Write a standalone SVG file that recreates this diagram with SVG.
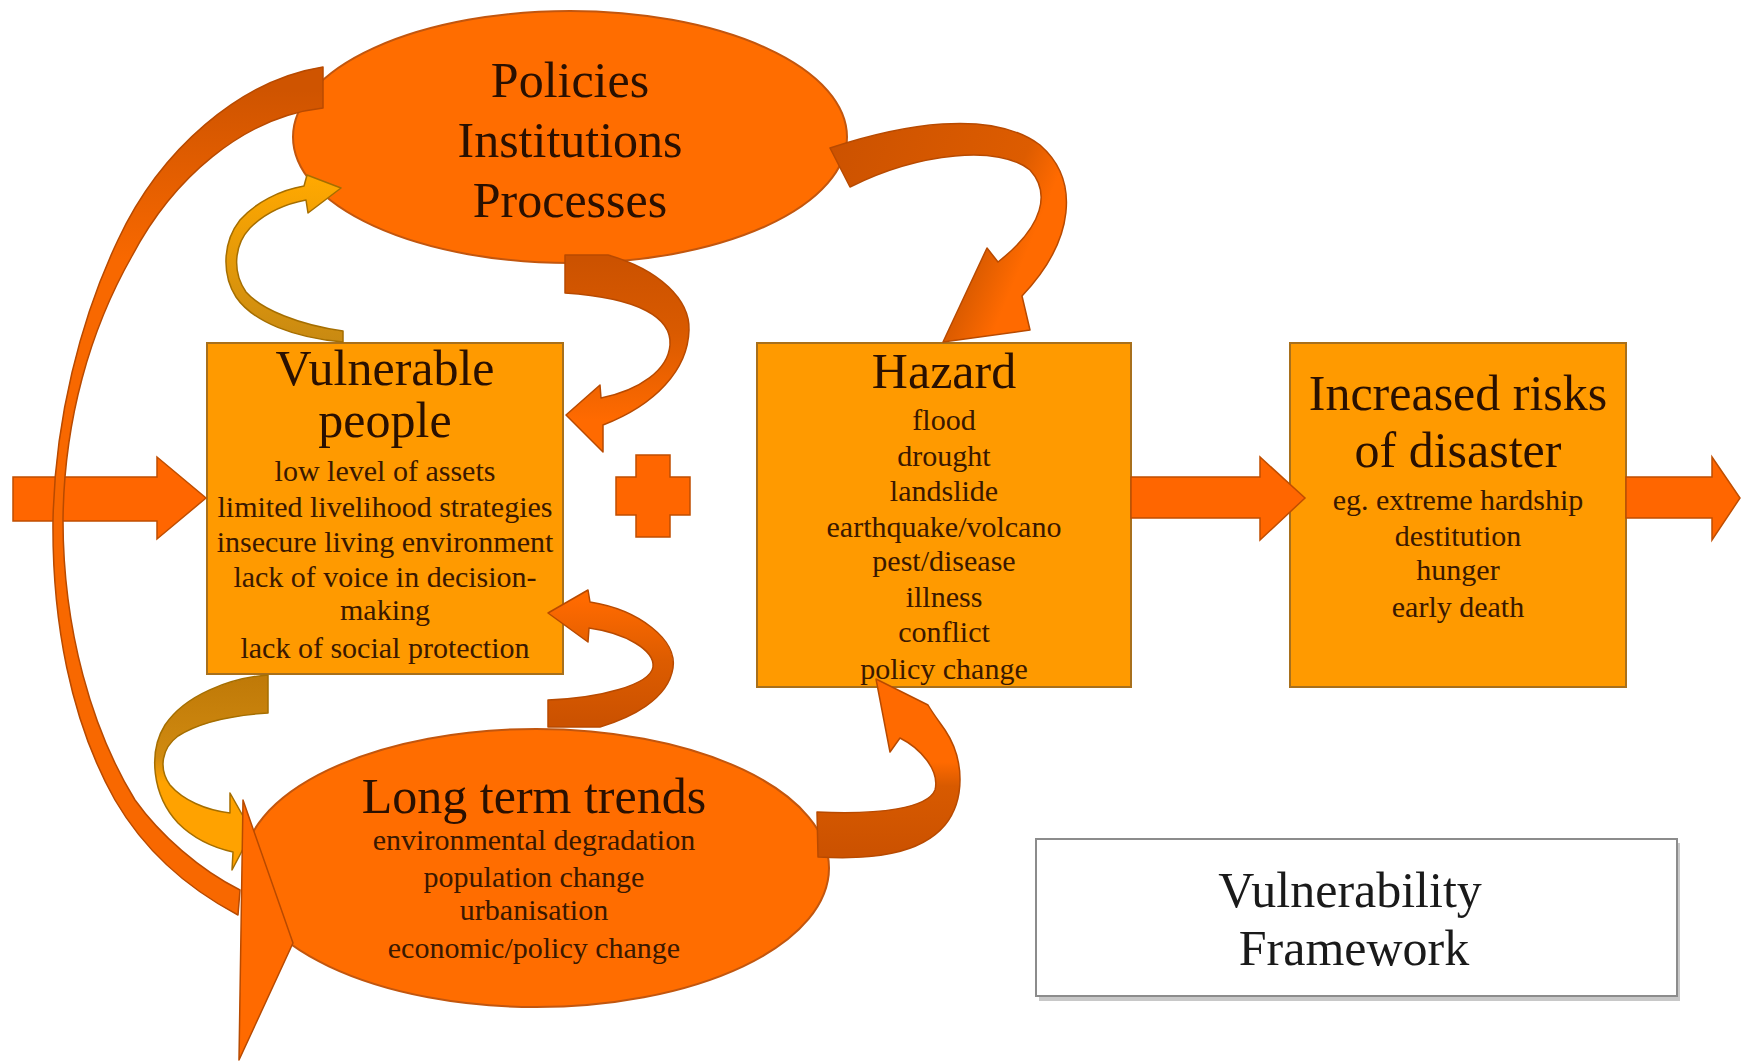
<svg xmlns="http://www.w3.org/2000/svg" width="1745" height="1064" viewBox="0 0 1745 1064">
<defs>
<style>
.bg{fill:#ffffff}
.ell{fill:#ff6d00;stroke:#c2560e;stroke-width:2}
.box{fill:#ff9a00;stroke:#a8701c;stroke-width:2}
.title{font-family:"Liberation Serif","Times New Roman",serif;font-size:50px;fill:#2a1000;text-anchor:middle}
.body{font-family:"Liberation Serif","Times New Roman",serif;font-size:30px;fill:#3a1800;text-anchor:middle}
.arrow{fill:#ff6600;stroke:#c04e00;stroke-width:1.5;stroke-linejoin:miter}
.curve{stroke:#b84a00;stroke-width:1.5;stroke-linejoin:round}
.amber{stroke:#a56e00;stroke-width:1.5;stroke-linejoin:round}
.frame{fill:#ffffff;stroke:#8c8c8c;stroke-width:2}
.ftext{font-family:"Liberation Serif","Times New Roman",serif;font-size:50px;fill:#1a1a1a;text-anchor:middle}
</style>
<linearGradient id="gA" gradientUnits="userSpaceOnUse" x1="0" y1="90" x2="0" y2="260">
<stop offset="0" stop-color="#cf5400"/><stop offset="1" stop-color="#f86800"/>
</linearGradient>
<linearGradient id="gB" gradientUnits="userSpaceOnUse" x1="0" y1="340" x2="0" y2="180">
<stop offset="0" stop-color="#c98a12"/><stop offset="1" stop-color="#ffa800"/>
</linearGradient>
<linearGradient id="gC" gradientUnits="userSpaceOnUse" x1="0" y1="260" x2="0" y2="420">
<stop offset="0" stop-color="#cc5200"/><stop offset="0.45" stop-color="#d95a00"/><stop offset="1" stop-color="#ff6a00"/>
</linearGradient>
<linearGradient id="gD" gradientUnits="userSpaceOnUse" x1="830" y1="150" x2="1070" y2="250">
<stop offset="0" stop-color="#cc5200"/><stop offset="0.7" stop-color="#dd5c00"/><stop offset="0.85" stop-color="#ff6a00"/><stop offset="1" stop-color="#ff6a00"/>
</linearGradient>
<linearGradient id="gE" gradientUnits="userSpaceOnUse" x1="0" y1="680" x2="0" y2="850">
<stop offset="0" stop-color="#c07a08"/><stop offset="0.45" stop-color="#d08a10"/><stop offset="0.6" stop-color="#ffa200"/><stop offset="1" stop-color="#ffa200"/>
</linearGradient>
<linearGradient id="gF" gradientUnits="userSpaceOnUse" x1="0" y1="720" x2="0" y2="600">
<stop offset="0" stop-color="#cc5200"/><stop offset="0.5" stop-color="#dd5c00"/><stop offset="1" stop-color="#ff6a00"/>
</linearGradient>
<linearGradient id="gG" gradientUnits="userSpaceOnUse" x1="0" y1="850" x2="0" y2="690">
<stop offset="0" stop-color="#cc5200"/><stop offset="0.4" stop-color="#d85a00"/><stop offset="0.55" stop-color="#ff6a00"/><stop offset="1" stop-color="#ff6a00"/>
</linearGradient>
</defs>
<rect class="bg" x="0" y="0" width="1745" height="1064"/>

<g id="node-policies">
<ellipse class="ell" cx="570" cy="137" rx="277" ry="126"/>
<text class="title" x="570" y="97">Policies</text>
<text class="title" x="570" y="157">Institutions</text>
<text class="title" x="570" y="217">Processes</text>
</g>

<g id="node-vulnerable">
<rect class="box" x="207" y="343" width="356" height="331"/>
<text class="title" x="385" y="385">Vulnerable</text>
<text class="title" x="385" y="437">people</text>
<text class="body" x="385" y="481">low level of assets</text>
<text class="body" x="385" y="517">limited livelihood strategies</text>
<text class="body" x="385" y="552">insecure living environment</text>
<text class="body" x="385" y="587">lack of voice in decision-</text>
<text class="body" x="385" y="620">making</text>
<text class="body" x="385" y="658">lack of social protection</text>
</g>

<g id="node-hazard">
<rect class="box" x="757" y="343" width="374" height="344"/>
<text class="title" x="944" y="388">Hazard</text>
<text class="body" x="944" y="430">flood</text>
<text class="body" x="944" y="466">drought</text>
<text class="body" x="944" y="501">landslide</text>
<text class="body" x="944" y="537">earthquake/volcano</text>
<text class="body" x="944" y="571">pest/disease</text>
<text class="body" x="944" y="607">illness</text>
<text class="body" x="944" y="642">conflict</text>
<text class="body" x="944" y="679">policy change</text>
</g>

<g id="node-risks">
<rect class="box" x="1290" y="343" width="336" height="344"/>
<text class="title" x="1458" y="410">Increased risks</text>
<text class="title" x="1458" y="467">of disaster</text>
<text class="body" x="1458" y="510">eg. extreme hardship</text>
<text class="body" x="1458" y="546">destitution</text>
<text class="body" x="1458" y="580">hunger</text>
<text class="body" x="1458" y="617">early death</text>
</g>

<g id="node-trends">
<ellipse class="ell" cx="536" cy="868" rx="293" ry="139"/>
<text class="title" x="534" y="813">Long term trends</text>
<text class="body" x="534" y="850">environmental degradation</text>
<text class="body" x="534" y="887">population change</text>
<text class="body" x="534" y="920">urbanisation</text>
<text class="body" x="534" y="958">economic/policy change</text>
</g>

<g id="node-title">
<rect x="1039" y="843" width="641" height="158" fill="#c8c8c8"/>
<rect class="frame" x="1036" y="839" width="641" height="157"/>
<text class="ftext" x="1350" y="907">Vulnerability</text>
<text class="ftext" x="1354" y="965">Framework</text>
</g>

<g id="plus">
<path class="arrow" d="M636,455 H670 V477 H690 V515 H670 V537 H636 V515 H616 V477 H636 Z"/>
</g>

<g id="connectors">
<path class="arrow" d="M13,477 L157,477 L157,457 L206,498 L157,539 L157,521 L13,521 Z"/>
<path class="arrow" d="M1131,477 L1260,477 L1260,457 L1305,498 L1260,540 L1260,518 L1131,518 Z"/>
<path class="arrow" d="M1626,477 L1712,477 L1712,457 L1740,498 L1712,540 L1712,518 L1626,518 Z"/>

<path class="amber" fill="url(#gB)" d="M343,342 L343,331 C300,325 262,310 246,292 C232,272 234,245 250,228 C265,213 285,204 306,200 L308,213 L341,188 L307,175 L304,186 C280,190 255,203 240,220 C222,243 222,275 236,297 C253,322 295,338 343,342 Z"/>

<path class="curve" fill="url(#gC)" d="M565,255 L608,255 C660,270 690,300 689,330 C688,370 655,405 603,425 L603,452 L566,415 L600,385 L601,398 C640,390 668,370 670,345 C672,318 640,298 565,293 Z"/>

<path class="curve" fill="url(#gD)" d="M830,148 C900,125 990,108 1040,145 C1080,180 1075,240 1022,296 L1030,330 L943,342 L987,248 L998,262 C1045,225 1050,192 1030,170 C1000,145 920,152 850,187 Z"/>

<path class="amber" fill="url(#gE)" d="M268,675 C230,678 185,695 165,725 C148,752 152,795 178,823 C195,840 215,848 233,852 L232,870 L252,832 L230,793 L230,813 C205,810 183,800 170,785 C158,768 162,748 178,736 C200,722 235,715 268,713 Z"/>

<path class="curve" fill="url(#gF)" d="M548,727 L600,727 C630,718 668,700 673,668 C677,640 640,610 590,602 L588,590 L548,613 L588,642 L589,628 C625,633 655,650 653,667 C650,685 600,698 548,700 Z"/>

<path class="curve" fill="url(#gG)" d="M817,812 L818,857 C870,860 920,855 945,825 C965,800 965,760 945,730 C938,720 932,712 928,705 L876,679 L890,752 L900,738 C920,748 940,770 935,790 C928,808 880,815 817,812 Z"/>

<path class="curve" fill="url(#gA)" d="M323,67 C240,80 160,150 118,240 C80,320 55,420 53,520 C52,620 70,720 115,800 C150,860 200,895 238,915 L240,890 C200,870 160,835 135,800 C92,730 63,630 63,520 C64,420 90,330 132,256 C172,180 242,117 323,108 Z"/>
<path class="curve" fill="#ff6a00" d="M243,800 L293,943 L239,1060 Z"/>
</g>
</svg>
